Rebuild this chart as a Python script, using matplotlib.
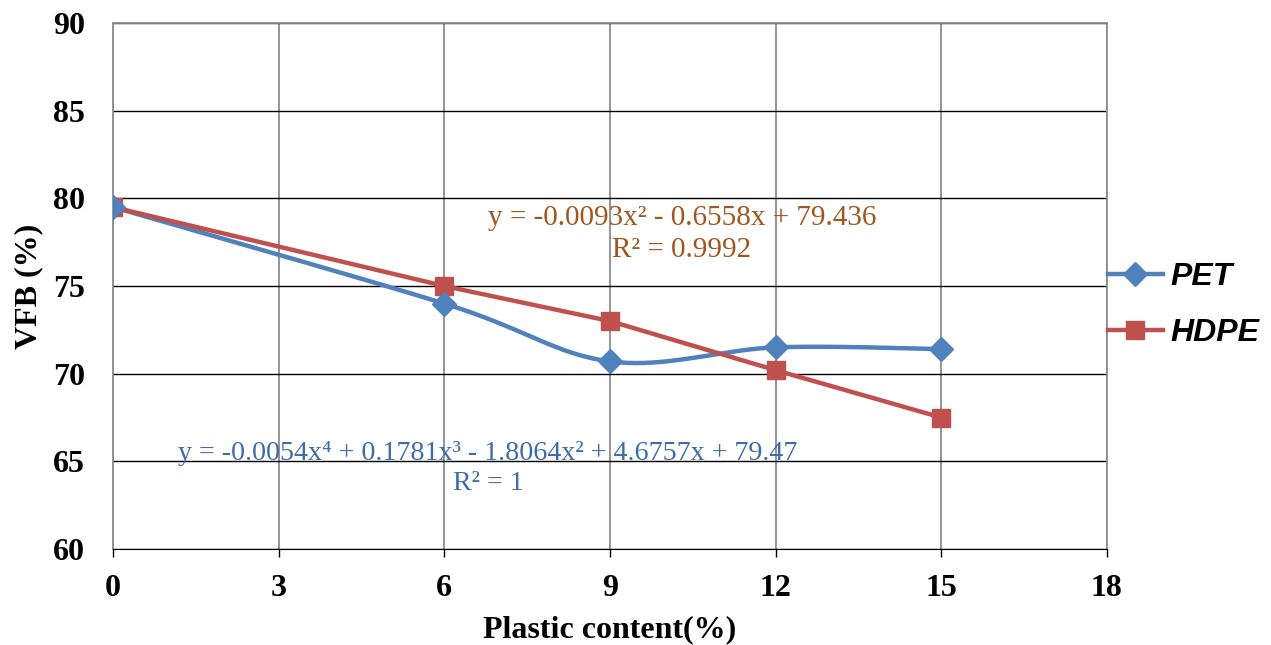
import numpy as np
import matplotlib
matplotlib.use('Agg')
import matplotlib.pyplot as plt
from matplotlib.lines import Line2D

# Plastic content (%) and VFB (%)
plastic = [0, 6, 9, 12, 15]
vfb_pet = [79.5, 74.0, 70.7, 71.5, 71.4]
vfb_hdpe = [79.5, 75.0, 73.0, 70.2, 67.5]

eq_pet = 'y = -0.0054x\u2074 + 0.1781x\u00b3 - 1.8064x\u00b2 + 4.6757x + 79.47\nR\u00b2 = 1'
eq_hdpe = 'y = -0.0093x\u00b2 - 0.6558x + 79.436\nR\u00b2 = 0.9992'

BLUE = '#4F81BD'
RED = '#C0504D'


def smooth(xs, ys, n=40):
    # Excel style smoothed line: cubic bezier, control points from neighbours
    p = np.column_stack([xs, ys]).astype(float)
    out = []
    for i in range(len(p) - 1):
        p0 = p[i - 1] if i > 0 else p[i]
        p3 = p[i + 2] if i + 2 < len(p) else p[i + 1]
        c1 = p[i] + (p[i + 1] - p0) / 6
        c2 = p[i + 1] - (p3 - p[i]) / 6
        t = np.linspace(0, 1, n)[:, None]
        seg = ((1 - t) ** 3 * p[i] + 3 * (1 - t) ** 2 * t * c1
               + 3 * (1 - t) * t ** 2 * c2 + t ** 3 * p[i + 1])
        out.append(seg if i == 0 else seg[1:])
    out = np.vstack(out)
    return out[:, 0], out[:, 1]


fig = plt.figure(figsize=(12.71, 6.45), dpi=100)
ax = fig.add_axes([0.0889, 0.1488, 0.782, 0.8155])

sx, sy = smooth(plastic, vfb_pet)
ax.plot(sx, sy, color=BLUE, lw=3.2, zorder=3)
ax.plot(plastic, vfb_pet, ls='none', marker='D', ms=12, color=BLUE, zorder=4)
ax.plot(plastic, vfb_hdpe, color=RED, lw=3.2, marker='s', ms=13, zorder=3)

ax.set_xlim(0, 18)
ax.set_ylim(60, 90)
ax.set_xticks(np.arange(0, 19, 3))
ax.set_yticks(np.arange(60, 91, 5))

ax.grid(axis='y', color='black', lw=1)
ax.grid(axis='x', color='#8C8C8C', lw=1.3)
ax.set_axisbelow(True)
for s in ['left', 'right', 'top']:
    ax.spines[s].set_color('#8C8C8C')
    ax.spines[s].set_linewidth(1.3)
ax.spines['bottom'].set_color('black')
ax.tick_params(axis='x', length=6, width=1, colors='black', pad=12)
ax.tick_params(axis='y', length=0, pad=20)

tf = {'family': 'Liberation Serif', 'weight': 'bold', 'size': 23}
for lab in ax.get_xticklabels() + ax.get_yticklabels():
    lab.set_fontproperties(tf)
ax.set_xlabel('Plastic content(%)', fontdict=tf, labelpad=9)
ax.set_ylabel('VFB (%)', fontdict=tf, labelpad=7)

ax.text(10.3, 77.95, eq_hdpe, color='#A0561E', ha='center', va='center',
        family='Liberation Serif', fontsize=21, linespacing=1.3)
ax.text(6.79, 64.6, eq_pet, color='#3E6CA8', ha='center', va='center',
        family='Liberation Serif', fontsize=20.2, linespacing=1.3)

handles = [Line2D([], [], color=BLUE, lw=3.2, marker='D', ms=12),
           Line2D([], [], color=RED, lw=3.2, marker='s', ms=13)]
fig.legend(handles, ['PET', 'HDPE'], loc='center left',
           bbox_to_anchor=(0.872, 0.527), frameon=False, handlelength=1.7,
           handletextpad=0.25, labelspacing=0.8, borderaxespad=0, borderpad=0,
           prop={'family': 'Liberation Sans', 'weight': 'bold',
                 'style': 'italic', 'size': 23})

fig.savefig('out.png', dpi=100)
